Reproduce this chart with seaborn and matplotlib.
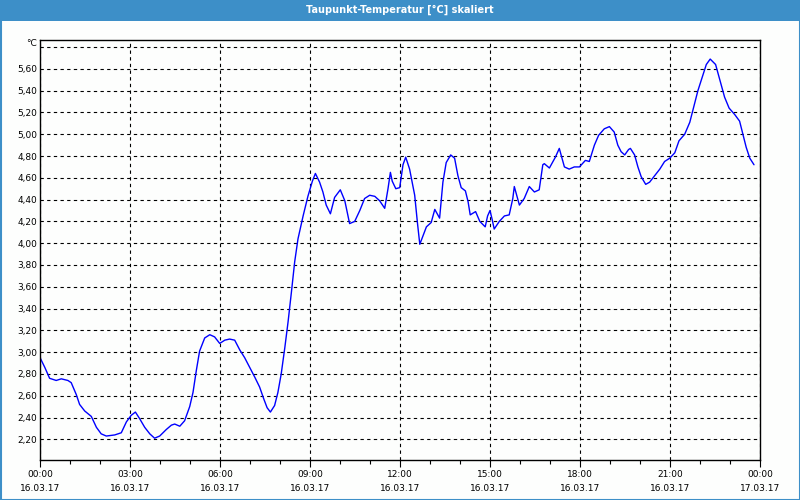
import matplotlib
matplotlib.use("Agg")
import matplotlib.pyplot as plt
from matplotlib.patches import Rectangle
from matplotlib.ticker import MultipleLocator
import seaborn as sns
import pandas as pd

# ---- data (hours since 16.03.17 00:00, dew point in °C) ----
hours = [
    0.00, 0.16, 0.32, 0.54, 0.71, 0.93, 1.04, 1.21, 1.32, 1.49, 1.71, 1.88,
    2.04, 2.21, 2.49, 2.71, 2.88, 3.04, 3.18, 3.32, 3.49, 3.66, 3.82, 3.99,
    4.21, 4.38, 4.49, 4.66, 4.82, 4.99, 5.10, 5.21, 5.32, 5.49, 5.66, 5.82,
    5.99, 6.16, 6.32, 6.49, 6.66, 6.82, 6.99, 7.16, 7.32, 7.46, 7.57, 7.68,
    7.82, 7.93, 8.04, 8.16, 8.27, 8.38, 8.49, 8.60, 8.77, 8.93, 9.08, 9.18,
    9.32, 9.43, 9.54, 9.68, 9.82, 10.01, 10.16, 10.32, 10.49, 10.66, 10.82, 10.99,
    11.16, 11.32, 11.49, 11.60, 11.68, 11.74, 11.86, 11.99, 12.10, 12.19, 12.32, 12.49,
    12.58, 12.66, 12.77, 12.88, 13.04, 13.16, 13.32, 13.43, 13.54, 13.69, 13.82, 13.93,
    14.04, 14.18, 14.27, 14.34, 14.52, 14.66, 14.84, 14.92, 15.00, 15.07, 15.14, 15.31,
    15.48, 15.64, 15.76, 15.81, 15.98, 16.14, 16.31, 16.48, 16.64, 16.76, 16.81, 16.98,
    17.18, 17.31, 17.40, 17.48, 17.64, 17.81, 17.98, 18.18, 18.31, 18.48, 18.62, 18.81,
    18.98, 19.14, 19.26, 19.37, 19.49, 19.62, 19.68, 19.82, 19.93, 20.04, 20.19, 20.32,
    20.49, 20.66, 20.82, 20.99, 21.16, 21.30, 21.49, 21.66, 21.79, 21.93, 22.08, 22.21,
    22.34, 22.52, 22.66, 22.82, 22.97, 23.16, 23.32, 23.43, 23.54, 23.66, 23.80,
]
dew_point = [
    2.95, 2.86, 2.76, 2.74, 2.755, 2.74, 2.72, 2.61, 2.52, 2.46, 2.41, 2.31,
    2.25, 2.23, 2.24, 2.26, 2.36, 2.42, 2.45, 2.39, 2.31, 2.25, 2.21, 2.23,
    2.29, 2.33, 2.34, 2.32, 2.37, 2.50, 2.63, 2.83, 3.01, 3.13, 3.16, 3.14,
    3.08, 3.11, 3.12, 3.11, 3.02, 2.95, 2.86, 2.77, 2.68, 2.57, 2.49, 2.45,
    2.51, 2.63, 2.80, 3.04, 3.28, 3.55, 3.83, 4.04, 4.25, 4.43, 4.57, 4.64,
    4.56, 4.47, 4.35, 4.27, 4.42, 4.49, 4.39, 4.18, 4.20, 4.30, 4.41, 4.44,
    4.43, 4.39, 4.32, 4.50, 4.65, 4.57, 4.50, 4.51, 4.72, 4.79, 4.68, 4.44,
    4.19, 3.99, 4.07, 4.15, 4.19, 4.31, 4.23, 4.56, 4.74, 4.81, 4.78, 4.62,
    4.51, 4.48, 4.38, 4.26, 4.29, 4.20, 4.15, 4.25, 4.30, 4.22, 4.13, 4.20,
    4.25, 4.26, 4.41, 4.52, 4.35, 4.41, 4.52, 4.47, 4.49, 4.72, 4.73, 4.69,
    4.79, 4.87, 4.78, 4.70, 4.68, 4.70, 4.70, 4.76, 4.75, 4.90, 4.99, 5.05,
    5.07, 5.02, 4.90, 4.84, 4.81, 4.86, 4.87, 4.81, 4.70, 4.61, 4.54, 4.56,
    4.62, 4.68, 4.75, 4.78, 4.83, 4.94, 5.00, 5.11, 5.25, 5.40, 5.53, 5.64,
    5.69, 5.64, 5.50, 5.34, 5.24, 5.18, 5.12, 5.00, 4.88, 4.78, 4.72,
]

x_tick_hours = [0, 3, 6, 9, 12, 15, 18, 21, 24]
x_tick_times = ["00:00", "03:00", "06:00", "09:00", "12:00", "15:00", "18:00", "21:00", "00:00"]
x_tick_dates = ["16.03.17"] * 8 + ["17.03.17"]
y_tick_values = [2.2, 2.4, 2.6, 2.8, 3.0, 3.2, 3.4, 3.6, 3.8, 4.0, 4.2, 4.4, 4.6, 4.8, 5.0, 5.2, 5.4, 5.6, 5.8]
y_tick_labels = [f"{v:.2f}".replace(".", ",") for v in y_tick_values[:-1]] + [""]

title = "Taupunkt-Temperatur [°C] skaliert"
unit = "°C"

BLUE_BAR = "#3D8FC8"

sns.set_style("white")
plt.rcParams["font.family"] = ["DejaVu Sans"]

fig = plt.figure(figsize=(8, 5), dpi=100, facecolor="#FDFEFD")
ax = fig.add_axes([40 / 800, 40 / 500, 720 / 800, 420 / 500])
ax.set_facecolor("#FDFEFD")

df = pd.DataFrame({"hour": hours, "value": dew_point})
sns.lineplot(data=df, x="hour", y="value", ax=ax, color="#0000FF", linewidth=1.0)

ax.set_xlim(0, 24)
ax.set_ylim(2.01, 5.865)
ax.set_xlabel("")
ax.set_ylabel("")

ax.set_xticks(x_tick_hours)
ax.set_xticklabels([f"{t}\n{d}" for t, d in zip(x_tick_times, x_tick_dates)],
                   fontsize=6.5, linespacing=1.6)
ax.xaxis.set_minor_locator(MultipleLocator(1))
ax.tick_params(axis="x", which="major", direction="out", length=5, width=0.8,
               color="black", pad=2.5, labelcolor="black")
ax.tick_params(axis="x", which="minor", direction="out", length=3, width=0.8, color="black")
ax.tick_params(axis="x", bottom=True, which="both")

ax.set_yticks(y_tick_values)
ax.set_yticklabels(y_tick_labels, fontsize=6.5)
ax.tick_params(axis="y", length=0, pad=2, labelcolor="black")

ax.grid(True, which="major", color="black", linestyle=(0, (3, 3)), linewidth=0.8)
for s in ax.spines.values():
    s.set_visible(True)
    s.set_color("black")
    s.set_linewidth(1.0)

ax.text(-0.004, 5.835, unit, transform=ax.get_yaxis_transform(), ha="right",
        va="center", fontsize=6.5, color="black")

# title bar and frame
fig.patches.append(Rectangle((0, 1 - 21 / 500), 1, 21 / 500, transform=fig.transFigure,
                             facecolor=BLUE_BAR, edgecolor="none", zorder=0))
fig.patches.append(Rectangle((0.5 / 800, 0.5 / 500), 799 / 800, 499 / 500, transform=fig.transFigure,
                             facecolor="none", edgecolor=BLUE_BAR, linewidth=1.5, zorder=5))
fig.text(0.5, 1 - 10 / 500, title, ha="center", va="center", color="white",
         fontsize=7, fontweight="bold")

fig.savefig("out.png", dpi=100, facecolor=fig.get_facecolor())
